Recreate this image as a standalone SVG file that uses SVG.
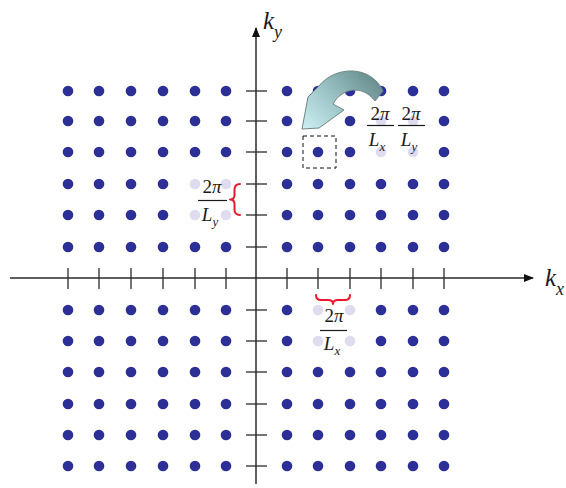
<svg xmlns="http://www.w3.org/2000/svg" width="566" height="488" viewBox="0 0 566 488">
<style>
.d{fill:#2c2f96}
.l{fill:#dedcee}
.ax{stroke:#2a2a2a;stroke-width:1.5;fill:none}
.tk{stroke:#2a2a2a;stroke-width:1.3}
.t{font-family:"Liberation Serif","Times New Roman",serif;fill:#1a1a1a}
.i{font-style:italic}
.br{fill:none;stroke:#e8192c;stroke-width:2;stroke-linecap:round;stroke-linejoin:round}
.bar{stroke:#1a1a1a;stroke-width:1.2}
circle{r:5.3px}
</style>
<defs>
<marker id="ah" viewBox="0 0 10 10" refX="9" refY="5" markerWidth="11" markerHeight="10" markerUnits="userSpaceOnUse" orient="auto">
<path d="M0,1 L10,5 L0,9 Z" fill="#111"/>
</marker>
<linearGradient id="g" x1="1" y1="0.3" x2="0" y2="1">
<stop offset="0" stop-color="#6a8f90"/>
<stop offset="0.5" stop-color="#9cc4c6"/>
<stop offset="1" stop-color="#cdf0f3"/>
</linearGradient>
</defs>
<rect width="566" height="488" fill="#fff"/>

<g id="axes">
<line class="ax" x1="10" y1="278" x2="533" y2="278" marker-end="url(#ah)"/>
<line class="ax" x1="256" y1="484" x2="256" y2="28" marker-end="url(#ah)"/>
<g id="xticks">
<line class="tk" x1="68" y1="268" x2="68" y2="289"/>
<line class="tk" x1="99" y1="268" x2="99" y2="289"/>
<line class="tk" x1="131" y1="268" x2="131" y2="289"/>
<line class="tk" x1="163" y1="268" x2="163" y2="289"/>
<line class="tk" x1="195" y1="268" x2="195" y2="289"/>
<line class="tk" x1="226" y1="268" x2="226" y2="289"/>
<line class="tk" x1="287" y1="268" x2="287" y2="289"/>
<line class="tk" x1="318" y1="268" x2="318" y2="289"/>
<line class="tk" x1="350" y1="268" x2="350" y2="289"/>
<line class="tk" x1="381" y1="268" x2="381" y2="289"/>
<line class="tk" x1="413" y1="268" x2="413" y2="289"/>
<line class="tk" x1="444" y1="268" x2="444" y2="289"/>
</g>
<g id="yticks">
<line class="tk" x1="246" y1="91" x2="267" y2="91"/>
<line class="tk" x1="246" y1="121" x2="267" y2="121"/>
<line class="tk" x1="246" y1="152" x2="267" y2="152"/>
<line class="tk" x1="246" y1="184" x2="267" y2="184"/>
<line class="tk" x1="246" y1="215" x2="267" y2="215"/>
<line class="tk" x1="246" y1="247" x2="267" y2="247"/>
<line class="tk" x1="246" y1="310" x2="267" y2="310"/>
<line class="tk" x1="246" y1="341" x2="267" y2="341"/>
<line class="tk" x1="246" y1="372" x2="267" y2="372"/>
<line class="tk" x1="246" y1="404" x2="267" y2="404"/>
<line class="tk" x1="246" y1="435" x2="267" y2="435"/>
<line class="tk" x1="246" y1="466" x2="267" y2="466"/>
</g>
</g>

<g id="dots">
<g id="r91"><circle class="d" cx="68" cy="91" r="5.3"/><circle class="d" cx="99" cy="91" r="5.3"/><circle class="d" cx="131" cy="91" r="5.3"/><circle class="d" cx="163" cy="91" r="5.3"/><circle class="d" cx="195" cy="91" r="5.3"/><circle class="d" cx="226" cy="91" r="5.3"/><circle class="d" cx="287" cy="91" r="5.3"/><circle class="d" cx="318" cy="91" r="5.3"/><circle class="d" cx="350" cy="91" r="5.3"/><circle class="d" cx="381" cy="91" r="5.3"/><circle class="d" cx="413" cy="91" r="5.3"/><circle class="d" cx="444" cy="91" r="5.3"/></g>
<g id="r121"><circle class="d" cx="68" cy="121" r="5.3"/><circle class="d" cx="99" cy="121" r="5.3"/><circle class="d" cx="131" cy="121" r="5.3"/><circle class="d" cx="163" cy="121" r="5.3"/><circle class="d" cx="195" cy="121" r="5.3"/><circle class="d" cx="226" cy="121" r="5.3"/><circle class="d" cx="287" cy="121" r="5.3"/><circle class="d" cx="350" cy="121" r="5.3"/><circle class="l" cx="381" cy="121" r="5.3"/><circle class="l" cx="413" cy="121" r="5.3"/><circle class="d" cx="444" cy="121" r="5.3"/></g>
<g id="r152"><circle class="d" cx="68" cy="152" r="5.3"/><circle class="d" cx="99" cy="152" r="5.3"/><circle class="d" cx="131" cy="152" r="5.3"/><circle class="d" cx="163" cy="152" r="5.3"/><circle class="d" cx="195" cy="152" r="5.3"/><circle class="d" cx="226" cy="152" r="5.3"/><circle class="d" cx="287" cy="152" r="5.3"/><circle class="d" cx="318" cy="152" r="5.3"/><circle class="d" cx="350" cy="152" r="5.3"/><circle class="l" cx="381" cy="152" r="5.3"/><circle class="l" cx="413" cy="152" r="5.3"/><circle class="d" cx="444" cy="152" r="5.3"/></g>
<g id="r184"><circle class="d" cx="68" cy="184" r="5.3"/><circle class="d" cx="99" cy="184" r="5.3"/><circle class="d" cx="131" cy="184" r="5.3"/><circle class="d" cx="163" cy="184" r="5.3"/><circle class="l" cx="195" cy="184" r="5.3"/><circle class="l" cx="226" cy="184" r="5.3"/><circle class="d" cx="287" cy="184" r="5.3"/><circle class="d" cx="318" cy="184" r="5.3"/><circle class="d" cx="350" cy="184" r="5.3"/><circle class="d" cx="381" cy="184" r="5.3"/><circle class="d" cx="413" cy="184" r="5.3"/><circle class="d" cx="444" cy="184" r="5.3"/></g>
<g id="r215"><circle class="d" cx="68" cy="215" r="5.3"/><circle class="d" cx="99" cy="215" r="5.3"/><circle class="d" cx="131" cy="215" r="5.3"/><circle class="d" cx="163" cy="215" r="5.3"/><circle class="l" cx="195" cy="215" r="5.3"/><circle class="l" cx="226" cy="215" r="5.3"/><circle class="d" cx="287" cy="215" r="5.3"/><circle class="d" cx="318" cy="215" r="5.3"/><circle class="d" cx="350" cy="215" r="5.3"/><circle class="d" cx="381" cy="215" r="5.3"/><circle class="d" cx="413" cy="215" r="5.3"/><circle class="d" cx="444" cy="215" r="5.3"/></g>
<g id="r247"><circle class="d" cx="68" cy="247" r="5.3"/><circle class="d" cx="99" cy="247" r="5.3"/><circle class="d" cx="131" cy="247" r="5.3"/><circle class="d" cx="163" cy="247" r="5.3"/><circle class="d" cx="195" cy="247" r="5.3"/><circle class="d" cx="226" cy="247" r="5.3"/><circle class="d" cx="287" cy="247" r="5.3"/><circle class="d" cx="318" cy="247" r="5.3"/><circle class="d" cx="350" cy="247" r="5.3"/><circle class="d" cx="381" cy="247" r="5.3"/><circle class="d" cx="413" cy="247" r="5.3"/><circle class="d" cx="444" cy="247" r="5.3"/></g>
<g id="r310"><circle class="d" cx="68" cy="310" r="5.3"/><circle class="d" cx="99" cy="310" r="5.3"/><circle class="d" cx="131" cy="310" r="5.3"/><circle class="d" cx="163" cy="310" r="5.3"/><circle class="d" cx="195" cy="310" r="5.3"/><circle class="d" cx="226" cy="310" r="5.3"/><circle class="d" cx="287" cy="310" r="5.3"/><circle class="l" cx="318" cy="310" r="5.3"/><circle class="l" cx="350" cy="310" r="5.3"/><circle class="d" cx="381" cy="310" r="5.3"/><circle class="d" cx="413" cy="310" r="5.3"/><circle class="d" cx="444" cy="310" r="5.3"/></g>
<g id="r341"><circle class="d" cx="68" cy="341" r="5.3"/><circle class="d" cx="99" cy="341" r="5.3"/><circle class="d" cx="131" cy="341" r="5.3"/><circle class="d" cx="163" cy="341" r="5.3"/><circle class="d" cx="195" cy="341" r="5.3"/><circle class="d" cx="226" cy="341" r="5.3"/><circle class="d" cx="287" cy="341" r="5.3"/><circle class="l" cx="318" cy="341" r="5.3"/><circle class="l" cx="350" cy="341" r="5.3"/><circle class="d" cx="381" cy="341" r="5.3"/><circle class="d" cx="413" cy="341" r="5.3"/><circle class="d" cx="444" cy="341" r="5.3"/></g>
<g id="r372"><circle class="d" cx="68" cy="372" r="5.3"/><circle class="d" cx="99" cy="372" r="5.3"/><circle class="d" cx="131" cy="372" r="5.3"/><circle class="d" cx="163" cy="372" r="5.3"/><circle class="d" cx="195" cy="372" r="5.3"/><circle class="d" cx="226" cy="372" r="5.3"/><circle class="d" cx="287" cy="372" r="5.3"/><circle class="d" cx="318" cy="372" r="5.3"/><circle class="d" cx="350" cy="372" r="5.3"/><circle class="d" cx="381" cy="372" r="5.3"/><circle class="d" cx="413" cy="372" r="5.3"/><circle class="d" cx="444" cy="372" r="5.3"/></g>
<g id="r404"><circle class="d" cx="68" cy="404" r="5.3"/><circle class="d" cx="99" cy="404" r="5.3"/><circle class="d" cx="131" cy="404" r="5.3"/><circle class="d" cx="163" cy="404" r="5.3"/><circle class="d" cx="195" cy="404" r="5.3"/><circle class="d" cx="226" cy="404" r="5.3"/><circle class="d" cx="287" cy="404" r="5.3"/><circle class="d" cx="318" cy="404" r="5.3"/><circle class="d" cx="350" cy="404" r="5.3"/><circle class="d" cx="381" cy="404" r="5.3"/><circle class="d" cx="413" cy="404" r="5.3"/><circle class="d" cx="444" cy="404" r="5.3"/></g>
<g id="r435"><circle class="d" cx="68" cy="435" r="5.3"/><circle class="d" cx="99" cy="435" r="5.3"/><circle class="d" cx="131" cy="435" r="5.3"/><circle class="d" cx="163" cy="435" r="5.3"/><circle class="d" cx="195" cy="435" r="5.3"/><circle class="d" cx="226" cy="435" r="5.3"/><circle class="d" cx="287" cy="435" r="5.3"/><circle class="d" cx="318" cy="435" r="5.3"/><circle class="d" cx="350" cy="435" r="5.3"/><circle class="d" cx="381" cy="435" r="5.3"/><circle class="d" cx="413" cy="435" r="5.3"/><circle class="d" cx="444" cy="435" r="5.3"/></g>
<g id="r466"><circle class="d" cx="68" cy="466" r="5.3"/><circle class="d" cx="99" cy="466" r="5.3"/><circle class="d" cx="131" cy="466" r="5.3"/><circle class="d" cx="163" cy="466" r="5.3"/><circle class="d" cx="195" cy="466" r="5.3"/><circle class="d" cx="226" cy="466" r="5.3"/><circle class="d" cx="287" cy="466" r="5.3"/><circle class="d" cx="318" cy="466" r="5.3"/><circle class="d" cx="350" cy="466" r="5.3"/><circle class="d" cx="381" cy="466" r="5.3"/><circle class="d" cx="413" cy="466" r="5.3"/><circle class="d" cx="444" cy="466" r="5.3"/></g>
</g>

<g id="box">
<rect x="303" y="136" width="33" height="32" fill="none" stroke="#111" stroke-width="1" stroke-dasharray="4,3"/>
</g>

<g id="curved-arrow">
<path d="M383,91 C372,66 336,64 318,87 L308,97 L302,129 L319,128 L344,110 L333,104 C342,88 362,84 375,101 Z" fill="url(#g)" stroke="#6f8686" stroke-width="1" stroke-linejoin="round"/>
</g>

<g id="label-ky">
<text class="t i" x="263" y="29" font-size="25">k<tspan font-size="18" dy="9">y</tspan></text>
</g>
<g id="label-kx">
<text class="t i" x="545" y="286" font-size="25">k<tspan font-size="18" dy="9">x</tspan></text>
</g>

<g id="frac-Lx-top">
<text class="t" x="380" y="120" font-size="19" text-anchor="middle">2<tspan class="i">π</tspan></text>
<line class="bar" x1="367" y1="125.5" x2="394" y2="125.5"/>
<text class="t i" x="377" y="146" font-size="19" text-anchor="middle">L<tspan font-size="13" dy="5">x</tspan></text>
</g>
<g id="frac-Ly-top">
<text class="t" x="411" y="120" font-size="19" text-anchor="middle">2<tspan class="i">π</tspan></text>
<line class="bar" x1="398" y1="125.5" x2="425" y2="125.5"/>
<text class="t i" x="409" y="146" font-size="19" text-anchor="middle">L<tspan font-size="13" dy="5">y</tspan></text>
</g>

<g id="label-left">
<text class="t" x="212" y="193" font-size="19" text-anchor="middle">2<tspan class="i">π</tspan></text>
<line class="bar" x1="198" y1="200.5" x2="227" y2="200.5"/>
<text class="t i" x="210" y="221" font-size="19" text-anchor="middle">L<tspan font-size="13" dy="5">y</tspan></text>
<path class="br" d="M240,184 Q234.5,184 234.5,190 L234.5,195 Q234.5,199.5 230,199.5 Q234.5,199.5 234.5,204 L234.5,209.5 Q234.5,215 240,215"/>
</g>

<g id="label-bottom">
<path class="br" d="M316,295 Q316,300 321,300 L328,300 Q333,300 333,304 Q333,300 338,300 L345,300 Q350,300 350,295"/>
<text class="t" x="334" y="322" font-size="19" text-anchor="middle">2<tspan class="i">π</tspan></text>
<line class="bar" x1="320" y1="330.5" x2="347" y2="330.5"/>
<text class="t i" x="332" y="350" font-size="19" text-anchor="middle">L<tspan font-size="13" dy="5">x</tspan></text>
</g>
</svg>
